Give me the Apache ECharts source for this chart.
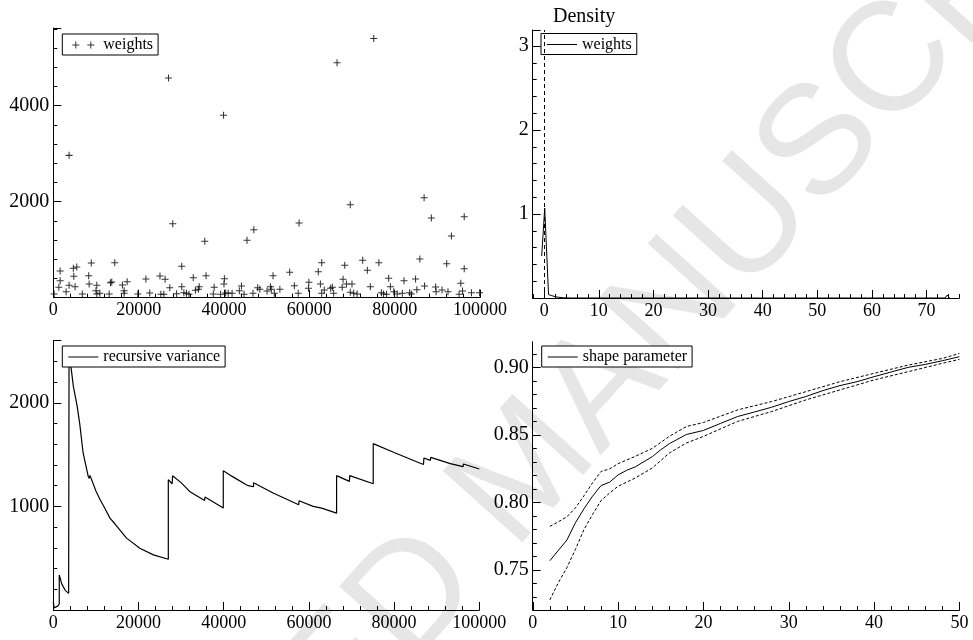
<!DOCTYPE html>
<html><head><meta charset="utf-8">
<script src="https://cdn.jsdelivr.net/npm/echarts@6/dist/echarts.min.js"></script>
<style>html,body{margin:0;padding:0;background:#fff}#c{width:973px;height:640px}</style>
</head><body><div id="c"></div>
<script>
const FONT = 'Liberation Serif';

// ---- Panel 1: weights (scatter) ----
const weightIdx = [3700,27000,28000,39900,35500,45400,47000,30100,66500,75100,57600,69600,86900,88600,93300,96300,85900,92200,96300,95500,
 200,1600,1600,1300,3000,3700,4700,5500,4800,5100,6800,8900,8300,8400,10200,10000,10200,10900,13100,13400,13700,14400,16200,16600,17300,16600,19800,21700,22600,
 25000,26200,27300,25200,25900,28900,30100,30600,31200,31800,32800,33300,34000,34200,35800,37700,37500,39200,40000,40100,40400,41000,41900,44100,43600,44700,46800,47900,48400,
 50100,50900,51500,51800,51100,53100,55400,56500,57400,59900,59800,62100,62900,62600,62900,63500,65000,65400,65700,67700,67900,68300,68700,70000,69600,70400,71200,72500,73600,
 74300,76300,76900,77400,78100,78600,79000,79800,80600,81800,82200,83500,83900,84900,85200,87000,89600,89700,91100,92500,95100,95900,98000,99900];
const weightVal = [2966,4577,1541,3800,1175,1196,1417,654,4895,5403,1556,1937,2083,1660,1285,1687,806,708,604,300,
 77,556,354,216,125,258,612,640,446,229,77,723,458,285,258,146,77,92,77,312,327,729,265,92,333,146,77,390,98,
 452,383,208,71,71,83,229,104,92,71,417,154,175,229,458,216,77,71,285,396,98,92,92,244,146,71,92,208,175,
 140,229,458,92,175,175,529,250,92,321,196,542,729,285,92,160,196,216,92,216,383,675,285,285,112,92,77,779,571,
 229,729,104,77,71,404,229,125,77,92,354,104,77,390,167,244,223,125,160,125,71,140,104,104];

// ---- Panel 2: density of weights ----
const densX = [-0.45,0.1,0.8,1.0,1.3,1.8,2.5,3.5,5,20,40,60,73.4,73.8,74.2];
const densY = [0.50,1.07,0.04,0.06,0.03,0.02,0.01,0.003,0,0,0,0,0,0.035,0];
const densXTicks = [0,10,20,30,40,50,60,70];

// ---- Panel 3: recursive variance ----
const varX = [0,200,600,1100,1400,1400,2000,2800,3600,3700,3700,4000,4700,5600,6200,7000,8200,8400,8600,9000,10000,11000,12000,13300,14400,14600,14800,17200,20300,23500,27000,
 27000,27900,28000,28000,30000,32000,35500,35600,39900,39900,42000,45300,45400,45800,47000,47000,51600,57600,57700,61000,63000,66500,66500,69500,69600,75100,75100,80000,86000,86900,87000,88500,88600,93200,93300,96200,96300,100000];
const varY = [80,20,10,40,60,339,250,190,160,155,2532,2400,2161,1968,1800,1516,1290,1270,1300,1258,1150,1065,990,887,835,850,820,694,597,532,490,
 1258,1219,1219,1297,1230,1145,1058,1090,984,1345,1290,1210,1225,1200,1190,1229,1129,1016,1055,1000,984,935,1297,1242,1297,1219,1606,1520,1419,1405,1468,1445,1474,1413,1426,1384,1410,1361];

// ---- Panel 4: shape parameter with bounds ----
const shapeX = [2,4,5,6,7,8,9,10,11,12,14,15,16,18,20,22,24,26,28,30,32,34,36,38,40,42,44,46,48,50];
const shapeY = [0.7569,0.7722,0.785,0.7953,0.8046,0.8125,0.815,0.8204,0.8238,0.8263,0.8339,0.839,0.8435,0.8503,0.8533,0.8585,0.8636,0.867,0.8705,0.8747,0.8784,0.8828,0.8865,0.8894,0.8931,0.8966,0.90,0.9022,0.9049,0.9079];
const upperX = [2,3,4,5,6,7,8,9,10,12,14,16,18,20,24,28,32,36,40,44,48,50];
const upperY = [0.7823,0.7857,0.7894,0.796,0.805,0.8145,0.823,0.8248,0.8287,0.8341,0.84,0.8489,0.8562,0.8592,0.8685,0.8747,0.882,0.8894,0.8956,0.9017,0.9066,0.9103];
const lowerX = [2,3,4,5,6,7,8,9,10,12,14,16,18,20,24,28,32,36,40,44,48,50];
const lowerY = [0.7279,0.7407,0.7518,0.7653,0.78,0.7911,0.8014,0.807,0.812,0.8181,0.8255,0.8366,0.844,0.8489,0.86,0.8673,0.8759,0.8833,0.8907,0.8968,0.903,0.9059];
const shapeXTicks = [0,10,20,30,40,50];
const shapeYTicks = [0.75,0.80,0.85,0.90];

const zip = (a, b) => a.map((v, i) => [v, b[i]]);
const range = (a, b, s) => { const r = []; for (let i = 0; a + i * s <= b + 1e-9; i++) r.push(+(a + i * s).toFixed(4)); return r; };

function axis(gridIndex, min, max, interval, isY, extra) {
  const o = {
    type: 'value', gridIndex, min, max, interval, z: 6,
    position: isY ? 'left' : 'bottom', offset: 0,
    axisLine: { show: true, onZero: false, lineStyle: { color: '#000', width: 1 } },
    axisTick: { show: true, inside: true, length: 8, lineStyle: { color: '#000', width: 1 } },
    minorTick: { show: true, splitNumber: 5, length: 4, lineStyle: { color: '#000', width: 1 } },
    splitLine: { show: false }, minorSplitLine: { show: false },
    axisLabel: { color: '#000', fontFamily: FONT, fontSize: isY ? 20 : 18, margin: 4,
                 showMinLabel: !isY, showMaxLabel: true,
                 formatter: v => String(v) }
  };
  if (extra) Object.assign(o.axisLabel, extra);
  return o;
}
// axis with explicit major tick values
function customAxis(gridIndex, min, max, ticks, isY, fmt) {
  const o = axis(gridIndex, min, max, undefined, isY, { customValues: ticks, formatter: fmt, showMinLabel: true, showMaxLabel: true });
  delete o.interval;
  o.axisTick.customValues = ticks;
  o.minorTick = { show: false };
  return o;
}
// overlay axis drawing only the minor ticks
function minorAxis(gridIndex, min, max, vals, isY) {
  return {
    type: 'value', gridIndex, min, max, z: 6, position: isY ? 'left' : 'bottom', offset: 0,
    axisLine: { show: false },
    axisTick: { show: true, inside: true, length: 4, customValues: vals, lineStyle: { color: '#000', width: 1 } },
    axisLabel: { show: false }, splitLine: { show: false }, minorTick: { show: false }
  };
}

const plusSym = 'path://M0,3.4h8v1.2h-8zM3.4,0h1.2v8h-1.2z';
const plusPair = 'path://M4,3h7v1h-7zM7,0h1v7h-1zM19,3h7v1h-7zM22,0h1v7h-1zM0,0h0.01v0.01h-0.01zM29.99,6.99h0.01v0.01h-0.01z';
const lineIcon = 'path://M0,0h30v1h-30z';

function legend(name, icon, left, top, iw, ih, label) {
  return {
    data: [{ name, icon }], left, top, orient: 'horizontal',
    itemWidth: iw, itemHeight: ih, itemGap: 0, padding: [3, 5, 2, 6],
    borderColor: '#000', borderWidth: 1, borderRadius: 0, backgroundColor: '#fff',
    selectedMode: false,
    formatter: () => label,
    textStyle: { fontFamily: FONT, fontSize: 16, color: '#000' }
  };
}

const chart = echarts.init(document.getElementById('c'), null, { renderer: 'canvas' });
chart.setOption({
  animation: false,
  backgroundColor: '#fff',
  graphic: [{
    type: 'text', x: 528, y: 472, rotation: 48 * Math.PI / 180, z: -10, silent: true,
    style: { text: 'ACCEPTED MANUSCRIPT', fontSize: 155, fontFamily: 'Liberation Sans', fill: '#e6e6e6', align: 'center', verticalAlign: 'middle' }
  }],
  title: { text: 'Density', left: 553, top: 7, padding: 0,
           textStyle: { fontFamily: FONT, fontSize: 20, fontWeight: 'normal', color: '#000' } },
  grid: [
    { left: 53.3, top: 28, width: 426.7, height: 269.7, containLabel: false, outerBoundsMode: 'none' },
    { left: 532.7, top: 30, width: 426.6, height: 268, containLabel: false, outerBoundsMode: 'none' },
    { left: 53.3, top: 340.7, width: 426, height: 269.3, containLabel: false, outerBoundsMode: 'none' },
    { left: 532.7, top: 341.7, width: 426.7, height: 268.3, containLabel: false, outerBoundsMode: 'none' }
  ],
  xAxis: [
    axis(0, 0, 100000, 20000, false),
    customAxis(1, -2.1, 76, densXTicks, false, v => String(v)),
    axis(2, 0, 100000, 20000, false),
    customAxis(3, -0.01, 50, shapeXTicks, false, v => String(v)),
    minorAxis(1, -2.1, 76, range(-2, 76, 2), false),
    minorAxis(3, -0.01, 50, range(2, 48, 2), false)
  ],
  yAxis: [
    axis(0, 0, 5620, 2000, true, { showMaxLabel: false }),
    axis(1, 0, 3.19, 1, true, { showMaxLabel: false }),
    axis(2, 0, 2600, 1000, true, { showMaxLabel: false }),
    customAxis(3, 0.7204, 0.919, shapeYTicks, true, v => Number(v).toFixed(2)),
    minorAxis(3, 0.7204, 0.919, range(0.73, 0.91, 0.01), true)
  ],
  legend: [
    legend('weights', plusPair, 62.3, 34, 30, 7, 'weights'),
    legend('densityW', lineIcon, 541, 33.5, 30, 1, 'weights'),
    legend('recursive variance', lineIcon, 62.3, 346, 30, 1, 'recursive variance'),
    legend('shape parameter', lineIcon, 541.7, 346, 30, 1, 'shape parameter')
  ],
  series: [
    { type: 'scatter', name: 'weights', xAxisIndex: 0, yAxisIndex: 0, data: zip(weightIdx, weightVal),
      symbol: plusSym, symbolSize: 7, itemStyle: { color: '#000', borderWidth: 0 } },
    { type: 'line', name: 'densityW', xAxisIndex: 1, yAxisIndex: 1, data: zip(densX, densY),
      symbol: 'none', color: '#000', lineStyle: { color: '#000', width: 1 },
      markLine: { silent: true, symbol: 'none', label: { show: false },
                  lineStyle: { color: '#000', type: [4, 3], width: 1 }, data: [{ xAxis: 0 }] } },
    { type: 'line', name: 'recursive variance', xAxisIndex: 2, yAxisIndex: 2, data: zip(varX, varY),
      symbol: 'none', color: '#000', lineStyle: { color: '#000', width: 1.2 } },
    { type: 'line', name: 'shape parameter', xAxisIndex: 3, yAxisIndex: 3, data: zip(shapeX, shapeY),
      symbol: 'none', color: '#000', lineStyle: { color: '#000', width: 1 } },
    { type: 'line', name: 'upper', xAxisIndex: 3, yAxisIndex: 3, data: zip(upperX, upperY),
      symbol: 'none', color: '#000', lineStyle: { color: '#000', width: 1, type: [3, 2] } },
    { type: 'line', name: 'lower', xAxisIndex: 3, yAxisIndex: 3, data: zip(lowerX, lowerY),
      symbol: 'none', color: '#000', lineStyle: { color: '#000', width: 1, type: [3, 2] } }
  ]
});
</script>
</body></html>
